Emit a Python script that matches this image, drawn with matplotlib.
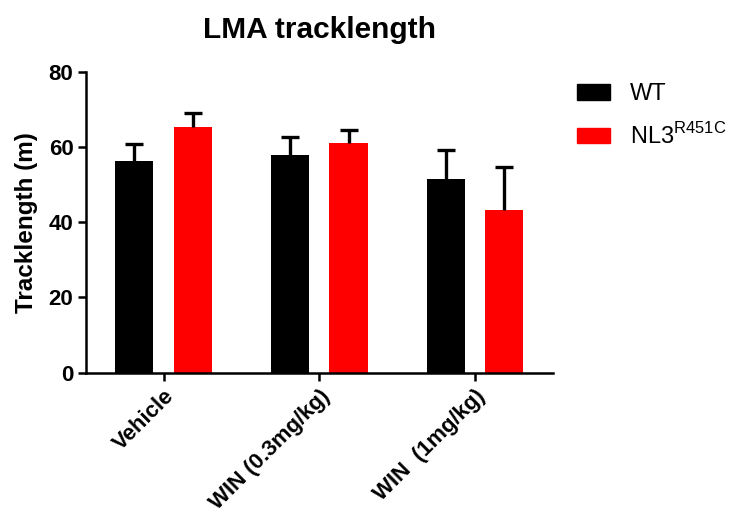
import numpy as np
import matplotlib
matplotlib.use("Agg")
import matplotlib.pyplot as plt
from matplotlib.patches import Patch

plt.rcParams['font.family'] = ['Liberation Sans', 'DejaVu Sans']

# group labels and values
groups = ['Vehicle', 'WIN (0.3mg/kg)', 'WIN  (1mg/kg)']
wt_mean = [56.3, 57.9, 51.5]
wt_sem = [4.4, 4.8, 7.7]
nl3_mean = [65.4, 61.0, 43.2]
nl3_sem = [3.6, 3.4, 11.5]

fig = plt.figure(figsize=(7.34, 5.16), dpi=100)
ax = fig.add_axes([0.117, 0.278, 0.636, 0.583])

x = np.arange(len(groups))
w = 0.245
off = 0.188

for xs, m, s, c in [(x - off, wt_mean, wt_sem, 'black'), (x + off, nl3_mean, nl3_sem, '#ff0000')]:
    ax.bar(xs, m, width=w, color=c, zorder=2)
    eb = ax.errorbar(xs, m, yerr=[np.zeros(len(s)), s], fmt='none', ecolor='black',
                     elinewidth=2.4, capsize=6.5, capthick=2.4, zorder=3)
    eb[1][0].set_visible(False)  # only the upper cap

ax.set_xlim(-0.5, 2.5)
ax.set_ylim(0, 80)
ax.set_yticks([0, 20, 40, 60, 80])
ax.set_xticks(x)
ax.set_xticklabels(groups, rotation=45, ha='right', va='top', rotation_mode='anchor',
                   fontsize=16, fontweight='bold')
for lab in ax.get_yticklabels():
    lab.set_fontsize(16)
    lab.set_fontweight('bold')

ax.spines['top'].set_visible(False)
ax.spines['right'].set_visible(False)
ax.spines['left'].set_linewidth(1.8)
ax.spines['bottom'].set_linewidth(1.8)
ax.tick_params(axis='both', width=1.8, length=6, direction='out')
ax.tick_params(axis='y', pad=3)

ax.set_ylabel('Tracklength (m)', fontsize=17.5, fontweight='bold', labelpad=8)
ax.set_title('LMA tracklength', fontsize=21.5, fontweight='bold', pad=24)

handles = [Patch(color='black'), Patch(color='#ff0000')]
fig.legend(handles, ['WT', 'NL3$^{\\mathregular{R451C}}$'], loc='upper left',
           bbox_to_anchor=(0.757, 0.88), frameon=False, fontsize=17,
           handlelength=1.4, handleheight=0.65, handletextpad=0.85, labelspacing=0.75)

fig.savefig('out.png', dpi=100)
